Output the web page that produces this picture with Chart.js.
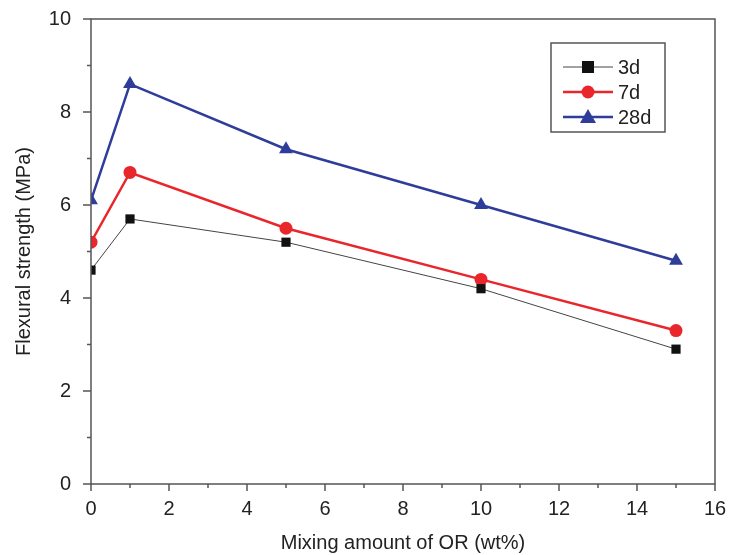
<!DOCTYPE html>
<html>
<head>
<meta charset="utf-8">
<script src="https://cdn.jsdelivr.net/npm/chart.js@4/dist/chart.umd.min.js"></script>
<style>
  html, body { margin: 0; padding: 0; background: #fff; }
</style>
</head>
<body>
<canvas id="flexChart" width="730" height="555"></canvas>
<script>
// data
const mixing = [0, 1, 5, 10, 15];
const strength3d = [4.6, 5.7, 5.2, 4.2, 2.9];
const strength7d = [5.2, 6.7, 5.5, 4.4, 3.3];
const strength28d = [6.1, 8.6, 7.2, 6.0, 4.8];
const seriesLabels = ['3d', '7d', '28d'];

const FONT = 'Liberation Sans, Arial, sans-serif';

const toPoints = ys => mixing.map((x, i) => ({ x, y: ys[i] }));

// draws the frame, major + minor ticks outside the plot
const frameTicks = {
  id: 'frameTicks',
  afterDraw(chart) {
    const { ctx, chartArea: a, scales } = chart;
    ctx.save();
    ctx.strokeStyle = '#555';
    ctx.lineWidth = 1.5;
    ctx.strokeRect(a.left, a.top, a.right - a.left, a.bottom - a.top);
    for (let v = 0; v <= 16; v++) {
      const px = scales.x.getPixelForValue(v);
      const len = v % 2 === 0 ? 7 : 4;
      ctx.beginPath();
      ctx.moveTo(px, a.bottom);
      ctx.lineTo(px, a.bottom + len);
      ctx.stroke();
    }
    for (let v = 0; v <= 10; v++) {
      const py = scales.y.getPixelForValue(v);
      const len = v % 2 === 0 ? 8 : 4;
      ctx.beginPath();
      ctx.moveTo(a.left, py);
      ctx.lineTo(a.left - len, py);
      ctx.stroke();
    }
    ctx.restore();
  }
};

// legend box inside the plot, top right
const boxLegend = {
  id: 'boxLegend',
  afterDraw(chart) {
    const { ctx } = chart;
    const bx = 551, by = 43, bw = 114, bh = 89;
    ctx.save();
    ctx.strokeStyle = '#555';
    ctx.lineWidth = 1.5;
    ctx.strokeRect(bx, by, bw, bh);
    chart.data.datasets.forEach((ds, i) => {
      const y = by + 24 + i * 25;
      ctx.strokeStyle = ds.borderColor;
      ctx.lineWidth = ds.borderWidth;
      ctx.beginPath();
      ctx.moveTo(bx + 12, y);
      ctx.lineTo(bx + 62, y);
      ctx.stroke();
      ctx.fillStyle = ds.pointBackgroundColor;
      const cx = bx + 37;
      if (ds.pointStyle === 'rect') {
        ctx.fillRect(cx - 6, y - 6, 12, 12);
      } else if (ds.pointStyle === 'circle') {
        ctx.beginPath();
        ctx.arc(cx, y, 6.5, 0, Math.PI * 2);
        ctx.fill();
      } else {
        ctx.beginPath();
        ctx.moveTo(cx, y - 8);
        ctx.lineTo(cx + 8, y + 6);
        ctx.lineTo(cx - 8, y + 6);
        ctx.closePath();
        ctx.fill();
      }
      ctx.fillStyle = '#222';
      ctx.font = '20px ' + FONT;
      ctx.textBaseline = 'middle';
      ctx.fillText(ds.label, bx + 67, y + 1);
    });
    ctx.restore();
  }
};

new Chart(document.getElementById('flexChart'), {
  type: 'line',
  data: {
    datasets: [
      {
        label: seriesLabels[0],
        data: toPoints(strength3d),
        borderColor: '#444',
        borderWidth: 1,
        pointStyle: 'rect',
        pointRadius: 6.5,
        pointBackgroundColor: '#111',
        pointBorderColor: '#111',
        pointBorderWidth: 0
      },
      {
        label: seriesLabels[1],
        data: toPoints(strength7d),
        borderColor: '#e8262b',
        borderWidth: 2.5,
        pointStyle: 'circle',
        pointRadius: 6.5,
        pointBackgroundColor: '#e8262b',
        pointBorderColor: '#e8262b',
        pointBorderWidth: 0
      },
      {
        label: seriesLabels[2],
        data: toPoints(strength28d),
        borderColor: '#2e3d9a',
        borderWidth: 2.5,
        pointStyle: 'triangle',
        pointRadius: 8,
        pointBackgroundColor: '#2e3d9a',
        pointBorderColor: '#2e3d9a',
        pointBorderWidth: 0
      }
    ]
  },
  options: {
    responsive: false,
    animation: false,
    clip: { left: 0, top: 0, right: 10, bottom: 10 },
    layout: { padding: { top: 19, right: 15, left: 0, bottom: 0 } },
    plugins: { legend: { display: false }, tooltip: { enabled: false } },
    scales: {
      x: {
        type: 'linear',
        min: 0,
        max: 16,
        grid: { display: false },
        border: { display: false },
        ticks: {
          stepSize: 2,
          color: '#222',
          padding: 5,
          font: { family: FONT, size: 20 }
        },
        title: {
          display: true,
          text: 'Mixing amount of OR (wt%)',
          color: '#222',
          padding: { top: 4, bottom: 0 },
          font: { family: FONT, size: 20 }
        },
        afterFit(scale) {
          scale.height = 71;
          scale.paddingLeft = 0;
          scale.paddingRight = 0;
        }
      },
      y: {
        min: 0,
        max: 10,
        grid: { display: false },
        border: { display: false },
        ticks: {
          stepSize: 2,
          color: '#222',
          padding: 12,
          font: { family: FONT, size: 20 }
        },
        title: {
          display: true,
          text: 'Flexural strength (MPa)',
          color: '#222',
          padding: { top: 12, bottom: 0 },
          font: { family: FONT, size: 20 }
        },
        afterFit(scale) {
          scale.width = 91;
          scale.paddingTop = 0;
          scale.paddingBottom = 0;
        }
      }
    }
  },
  plugins: [frameTicks, boxLegend]
});
</script>
</body>
</html>
